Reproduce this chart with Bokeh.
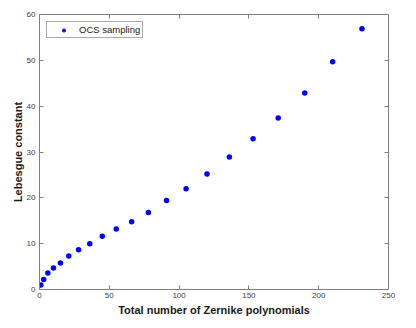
from bokeh.plotting import figure
from bokeh.models import Range1d, LinearAxis, FixedTicker, CustomJSTickFormatter, Legend, LegendItem
from bokeh.embed import file_html
from bokeh.resources import INLINE

# Data
n_zernike = [1, 3, 6, 10, 15, 21, 28, 36, 45, 55, 66, 78, 91, 105, 120, 136, 153, 171, 190, 210, 231]
lebesgue = [1.0, 2.2, 3.6, 4.7, 5.8, 7.3, 8.7, 10.0, 11.6, 13.2, 14.8, 16.8, 19.4, 22.0, 25.2,
            28.9, 32.9, 37.4, 42.9, 49.7, 56.9]
x_ticks = [0, 50, 100, 150, 200, 250]
y_ticks = [0, 10, 20, 30, 40, 50, 60]
series_name = "OCS sampling"
x_label = "Total number of Zernike polynomials"
y_label = "Lebesgue constant"

FONT = "Liberation Sans"
AXIS_COLOR = "#808080"
TICK_LABEL_COLOR = "#404040"

p = figure(frame_width=349, frame_height=275, output_backend="svg", toolbar_location=None,
           x_range=Range1d(0, 250), y_range=Range1d(0, 60),
           min_border_left=39, min_border_top=14, min_border_right=12, min_border_bottom=0,
           background_fill_color="white", border_fill_color="white")
p.outline_line_color = None
p.xgrid.visible = False
p.ygrid.visible = False

def style_axis(ax, ticks, show_labels):
    ax.ticker = FixedTicker(ticks=ticks)
    ax.axis_line_color = AXIS_COLOR
    ax.axis_line_width = 1
    ax.major_tick_line_color = AXIS_COLOR
    ax.major_tick_in = 4
    ax.major_tick_out = 0
    ax.minor_tick_line_color = None
    ax.major_label_text_font = FONT
    ax.major_label_text_font_size = "8px"
    ax.major_label_text_color = TICK_LABEL_COLOR
    ax.axis_label_text_font = FONT
    ax.axis_label_text_font_size = "11px"
    ax.axis_label_text_font_style = "bold"
    ax.axis_label_text_color = "#1a1a1a"
    if not show_labels:
        ax.formatter = CustomJSTickFormatter(code="return ''")
        ax.major_label_standoff = 0

xa = p.xaxis[0]
style_axis(xa, x_ticks, True)
xa.axis_label = x_label
xa.major_label_standoff = 3
xa.axis_label_standoff = 3

ya = p.yaxis[0]
style_axis(ya, y_ticks, True)
ya.axis_label = y_label
ya.major_label_standoff = 4
ya.axis_label_standoff = 0

top = LinearAxis()
style_axis(top, x_ticks, False)
p.add_layout(top, "above")
right = LinearAxis()
style_axis(right, y_ticks, False)
p.add_layout(right, "right")

r = p.scatter(n_zernike, lebesgue, marker="circle", size=5.5,
              fill_color="#0000ff", line_color=None)

legend = Legend(items=[LegendItem(label=series_name, renderers=[r])],
                location="top_left", margin=7, padding=2,
                label_height=10, glyph_height=10, glyph_width=29, label_standoff=1,
                label_text_font=FONT, label_text_font_size="9.5px", label_text_color="#1a1a1a",
                border_line_color="#555555", border_line_width=1,
                background_fill_color="white", background_fill_alpha=1)
p.add_layout(legend, "center")

open("out.html", "w").write(file_html(p, INLINE))
